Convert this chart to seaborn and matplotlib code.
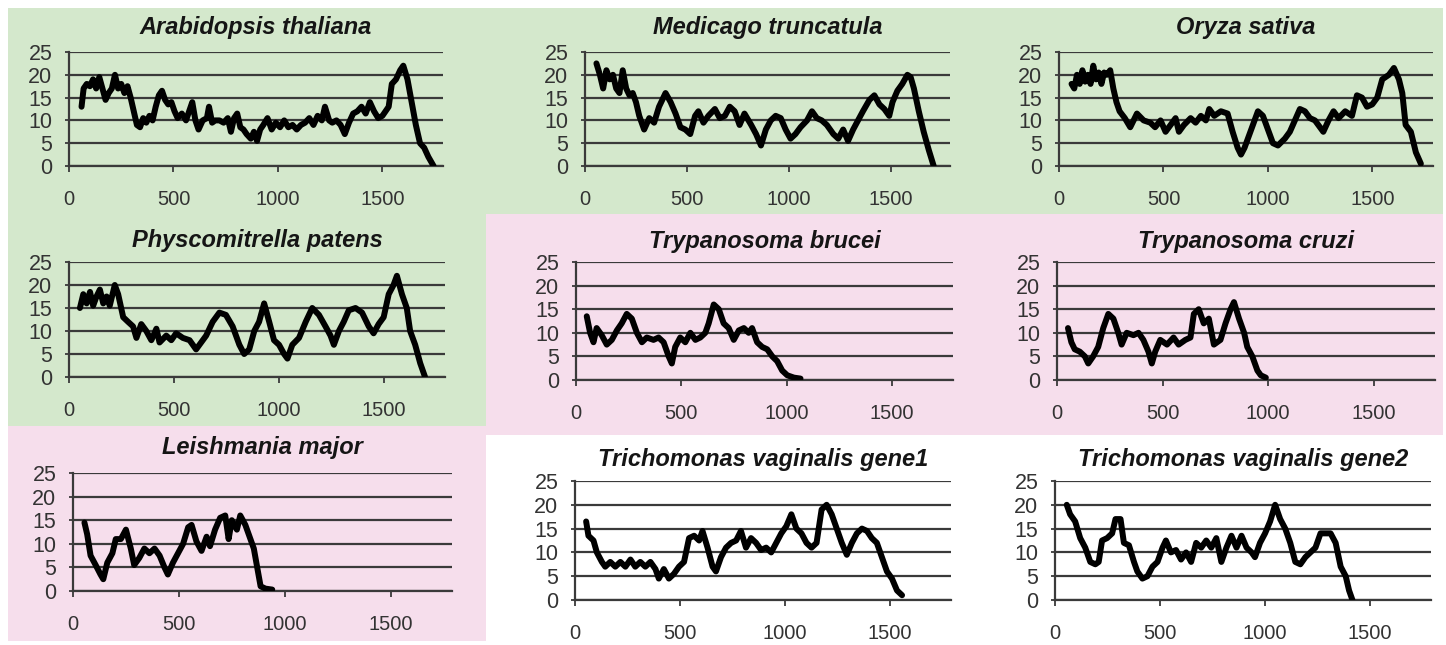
import matplotlib
matplotlib.use("Agg")
import matplotlib.pyplot as plt
import seaborn as sns
import pandas as pd
from matplotlib import font_manager
from matplotlib.patches import Rectangle

# Read-off values (position, value) for each panel
arabidopsis = [(60, 13), (70, 17), (85, 18), (100, 17.5), (115, 19), (130, 17), (145, 19.5), (160, 17),
               (175, 14.5), (190, 16), (205, 17), (220, 20), (235, 17), (250, 18), (265, 16), (280, 17.5),
               (295, 15), (310, 12), (325, 9), (340, 8.5), (355, 10.5), (370, 9.5), (385, 11), (400, 10),
               (415, 13), (430, 15.5), (445, 16.5), (460, 14.5), (475, 13.5), (490, 14), (505, 12),
               (520, 10.5), (540, 11.5), (560, 10), (575, 12), (590, 14), (605, 10), (620, 8), (640, 10),
               (660, 10.5), (670, 13), (685, 9.5), (700, 10), (720, 10), (740, 9.5), (760, 10.5), (775, 7.5),
               (790, 10.5), (805, 11.5), (820, 8.5), (835, 8), (850, 7), (870, 6), (885, 7.5), (900, 5.5),
               (915, 8), (930, 9), (950, 10.5), (970, 8), (990, 9.5), (1010, 8.5), (1030, 10), (1050, 8.5),
               (1070, 9), (1090, 8), (1110, 9), (1130, 9.5), (1150, 10.5), (1170, 9), (1190, 11), (1210, 10),
               (1225, 13), (1245, 10), (1260, 9.5), (1280, 10), (1300, 9), (1320, 7), (1340, 9.5),
               (1360, 11.5), (1380, 12), (1400, 13), (1420, 11.5), (1440, 14), (1460, 12), (1480, 10.5),
               (1500, 11), (1515, 12), (1530, 13), (1545, 18), (1565, 19), (1585, 21), (1600, 22),
               (1620, 19), (1640, 14), (1660, 9), (1680, 5), (1700, 4), (1720, 2), (1745, 0)]

medicago = [(56, 22.5), (73, 20), (89, 17), (105, 21), (121, 19), (137, 20), (153, 17), (169, 16),
            (185, 21), (202, 17), (218, 15.5), (234, 16), (250, 14), (266, 11), (290, 8), (315, 10.5),
            (339, 9.5), (363, 13), (395, 16), (420, 14), (444, 11.5), (468, 8.5), (492, 8), (516, 7),
            (540, 11), (556, 12), (581, 9.5), (605, 11), (637, 12.5), (661, 10.5), (686, 11), (710, 13),
            (734, 12), (758, 9), (782, 11.5), (815, 9), (839, 7), (863, 4.5), (887, 8), (911, 10),
            (935, 11), (960, 10.5), (984, 8), (1008, 6), (1032, 7), (1057, 8.5), (1089, 10), (1113, 12),
            (1137, 10.5), (1161, 10), (1186, 9), (1218, 7), (1242, 6), (1266, 8), (1290, 5.5), (1315, 8),
            (1339, 10), (1363, 12), (1395, 14.5), (1419, 15.5), (1444, 13.5), (1468, 12.5), (1492, 11),
            (1508, 14), (1532, 16.5), (1556, 18), (1581, 20), (1597, 19.5), (1613, 17), (1637, 12),
            (1661, 7.5), (1686, 3.5), (1710, 0)]

oryza = [(60, 18), (73, 17), (86, 20), (99, 18), (112, 21), (125, 18.5), (138, 20), (151, 18), (164, 22),
         (177, 19), (190, 20.5), (203, 18), (216, 20.5), (229, 20), (245, 21), (260, 17), (275, 14),
         (290, 12), (315, 10.5), (341, 8.5), (373, 11.5), (405, 10), (437, 9.5), (460, 8.5), (486, 10),
         (510, 7.5), (534, 9), (558, 10.5), (574, 7.5), (598, 9), (630, 10.5), (654, 9.5), (679, 11),
         (703, 10), (719, 12.5), (743, 11), (775, 12), (807, 11.5), (831, 7.5), (855, 4), (871, 2.5),
         (888, 4), (920, 8), (952, 12), (976, 11), (1000, 8), (1024, 5), (1048, 4.5), (1081, 6),
         (1105, 7.5), (1129, 10), (1153, 12.5), (1177, 12), (1201, 10.5), (1225, 10), (1249, 8.5),
         (1265, 7.5), (1290, 10), (1314, 12), (1338, 10.5), (1370, 12), (1402, 11), (1426, 15.5),
         (1450, 15), (1474, 13), (1499, 13.5), (1523, 15), (1547, 19), (1579, 20), (1603, 21.5),
         (1627, 19), (1643, 16), (1659, 9), (1684, 7.5), (1708, 3), (1732, 0.5)]

physcomitrella = [(52, 15), (68, 18), (84, 16), (100, 18.5), (115, 15.5), (131, 17.5), (147, 19), (163, 16),
                  (179, 17.5), (194, 15.5), (218, 20), (234, 18), (258, 13), (281, 12), (305, 11),
                  (321, 8.5), (344, 11.5), (368, 10), (392, 8), (416, 10.5), (431, 7.5), (463, 9), (487, 8),
                  (510, 9.5), (542, 8.5), (574, 8), (605, 6), (629, 7.5), (653, 9), (684, 12), (716, 14),
                  (747, 13.5), (779, 11), (811, 7), (834, 5), (858, 6), (882, 10), (905, 12), (929, 16),
                  (953, 12), (976, 8), (1000, 7), (1024, 5), (1040, 4), (1063, 7), (1095, 8.5), (1127, 12),
                  (1158, 15), (1190, 13.5), (1221, 11), (1245, 9), (1261, 7), (1285, 10), (1308, 12),
                  (1332, 14.5), (1364, 15), (1395, 14), (1427, 11), (1450, 9.5), (1474, 11.5), (1498, 13),
                  (1522, 18), (1545, 20), (1561, 22), (1585, 18), (1608, 15), (1624, 10), (1648, 7),
                  (1672, 3), (1695, 0)]

t_brucei = [(51, 13.5), (67, 10), (83, 8), (98, 11), (122, 9.5), (146, 7.5), (170, 8.5), (194, 10.5),
            (217, 12), (241, 14), (265, 13), (289, 10), (313, 8), (336, 9), (368, 8.5), (392, 9), (416, 8),
            (440, 5), (455, 3.5), (471, 7), (495, 9), (519, 8), (543, 10), (567, 8.5), (590, 9), (614, 10),
            (630, 12), (654, 16), (678, 15), (701, 12), (725, 11), (749, 8.5), (773, 10.5), (797, 11),
            (820, 10), (836, 11), (860, 8), (884, 7), (908, 6.5), (932, 5), (955, 4), (979, 2),
            (1003, 1), (1035, 0.5), (1066, 0.3)]

t_cruzi = [(52, 11), (68, 8), (84, 6.5), (108, 6), (132, 5), (148, 3.5), (171, 5), (195, 7), (219, 11),
           (243, 14), (267, 13), (290, 10), (306, 7.5), (330, 10), (362, 9.5), (386, 10), (409, 8.5),
           (433, 6), (449, 3.5), (465, 6), (489, 8.5), (521, 7.5), (552, 9), (576, 7.5), (608, 8.5),
           (632, 9), (648, 14), (671, 15), (695, 12), (719, 13), (743, 7.5), (774, 8.5), (798, 12),
           (822, 15), (838, 16.5), (862, 13), (886, 10), (901, 7), (925, 5), (949, 2), (965, 1), (989, 0.5)]

leishmania = [(54, 14.5), (67, 12), (83, 7.5), (107, 5.5), (130, 3.5), (143, 2.5), (162, 6), (186, 8),
              (202, 11), (226, 11), (250, 13), (273, 9), (289, 5.5), (313, 7), (337, 9), (361, 8), (385, 9),
              (409, 7.5), (432, 5), (448, 3.5), (472, 6), (496, 8), (520, 10), (544, 13.5), (560, 14),
              (583, 10.5), (607, 8.5), (631, 11.5), (647, 9.5), (671, 13), (695, 15.5), (719, 16),
              (735, 11), (750, 15), (774, 13), (790, 16), (814, 14), (838, 11), (854, 9), (870, 5),
              (886, 1), (909, 0.5), (941, 0.3)]

tv_gene1 = [(53, 16.5), (64, 13.5), (88, 12.5), (104, 10), (128, 8), (144, 7), (168, 8), (192, 7), (216, 8),
            (240, 7), (264, 8.5), (287, 7), (311, 8), (335, 7), (359, 8), (383, 6.5), (399, 4.5), (423, 6.5),
            (447, 4.5), (471, 5.5), (495, 7), (519, 8), (543, 13), (567, 13.5), (591, 12.5), (607, 14.5),
            (631, 11), (655, 7), (671, 6), (695, 9), (719, 11), (743, 12), (767, 12.5), (790, 14.5),
            (814, 11), (838, 13), (862, 12), (886, 10.5), (910, 11), (934, 10), (958, 12), (982, 14),
            (1006, 15.5), (1030, 18), (1054, 15), (1078, 14), (1102, 12), (1126, 11), (1150, 12),
            (1174, 19), (1198, 20), (1222, 18), (1246, 15), (1270, 12), (1294, 9.5), (1318, 12),
            (1342, 14), (1366, 15), (1390, 14.5), (1413, 13), (1437, 12), (1461, 9), (1485, 6),
            (1509, 4.5), (1533, 2), (1557, 1)]

tv_gene2 = [(56, 20), (72, 18), (96, 16.5), (120, 13), (144, 11), (168, 8), (192, 7.5), (208, 8), (224, 12.5),
            (248, 13), (272, 14), (288, 17), (312, 17), (328, 12), (352, 11.5), (376, 8), (392, 6), (416, 4.5),
            (440, 5), (464, 7), (488, 8), (512, 11), (528, 12.5), (552, 10), (576, 10.5), (600, 8.5),
            (624, 10), (648, 8), (672, 12), (696, 11), (720, 12.5), (744, 11), (768, 13), (792, 8),
            (816, 11), (840, 13.5), (864, 11), (888, 13.5), (912, 11), (936, 10), (952, 9), (976, 12),
            (1000, 14), (1024, 16.5), (1048, 20), (1072, 17), (1096, 15), (1120, 12), (1144, 8),
            (1168, 7.5), (1192, 9), (1216, 10), (1240, 11), (1264, 14), (1288, 14), (1312, 14),
            (1336, 12), (1360, 7), (1384, 5), (1400, 2), (1416, 0)]

titles = ["Arabidopsis thaliana", "Medicago truncatula", "Oryza sativa",
          "Physcomitrella patens", "Trypanosoma brucei", "Trypanosoma cruzi",
          "Leishmania major", "Trichomonas vaginalis gene1", "Trichomonas vaginalis gene2"]
series = [arabidopsis, medicago, oryza, physcomitrella, t_brucei, t_cruzi, leishmania, tv_gene1, tv_gene2]
x_ticks = [0, 500, 1000, 1500]
y_ticks = [0, 5, 10, 15, 20, 25]

# panel plot areas in pixels: left, right, top, bottom, title pad
layout = [(69, 443, 52, 166, 18), (585, 950, 52, 166, 18), (1059, 1433, 52, 166, 18),
          (69, 445, 262, 377, 15), (576, 953, 262, 380, 14), (1057, 1435, 262, 380, 14),
          (73, 452, 473, 591, 19), (575, 951, 481, 600, 15), (1055, 1431, 481, 600, 15)]

W, H = 1446, 645
GREEN = "#d4e8cc"
PINK = "#f6deec"

sns.set_style("white")
names = {f.name for f in font_manager.fontManager.ttflist}
tick_font = "Liberation Sans Narrow" if "Liberation Sans Narrow" in names else "Liberation Sans"
plt.rcParams["font.family"] = ["Liberation Sans", "DejaVu Sans"]

fig = plt.figure(figsize=(W / 100, H / 100), dpi=100)
fig.patch.set_facecolor("white")


def px_rect(x0, y0, x1, y1, color):
    fig.patches.append(Rectangle((x0 / W, 1 - y1 / H), (x1 - x0) / W, (y1 - y0) / H,
                                 transform=fig.transFigure, facecolor=color, edgecolor="none", zorder=-5))


# coloured background blocks
px_rect(8, 8, 1443, 214, GREEN)
px_rect(8, 214, 486, 426, GREEN)
px_rect(486, 214, 1443, 435, PINK)
px_rect(8, 426, 486, 641, PINK)

for title, data, (l, r, t, b, pad) in zip(titles, series, layout):
    ax = fig.add_axes([l / W, 1 - b / H, (r - l) / W, (b - t) / H])
    ax.set_facecolor("none")
    df = pd.DataFrame(data, columns=["pos", "val"])
    sns.lineplot(data=df, x="pos", y="val", ax=ax, color="black", linewidth=4.3,
                 estimator=None, solid_joinstyle="round", solid_capstyle="round", zorder=3)
    ax.set_xlim(0, 1790)
    ax.set_ylim(0, 25)
    ax.set_xticks(x_ticks)
    ax.set_yticks(y_ticks)
    ax.set_xlabel("")
    ax.set_ylabel("")
    ax.yaxis.grid(True, color="#3a3a3a", linewidth=1.6)
    ax.xaxis.grid(False)
    ax.set_axisbelow(True)
    for side in ["top", "right"]:
        ax.spines[side].set_visible(False)
    for side in ["left", "bottom"]:
        ax.spines[side].set_color("#3a3a3a")
        ax.spines[side].set_linewidth(1.6)
    ax.tick_params(axis="x", direction="out", length=4.3, width=1.3, color="#3a3a3a",
                   pad=13, labelsize=14.5, labelcolor="#333333")
    ax.tick_params(axis="y", direction="out", length=3, width=1.3, color="#3a3a3a",
                   pad=9, labelsize=15.5, labelcolor="#333333")
    ax.tick_params(left=True, bottom=True)
    for lab in ax.get_xticklabels() + ax.get_yticklabels():
        lab.set_fontfamily(tick_font)
    ax.set_title(title, fontsize=17, fontweight="bold", fontstyle="italic",
                 color="#151515", pad=pad / 1.389)

fig.savefig("out.png", dpi=100)
